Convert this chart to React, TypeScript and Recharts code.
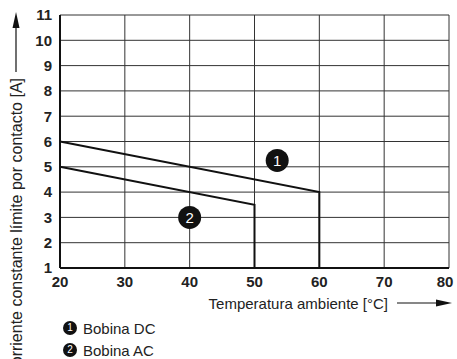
import React from 'react';
import {
    LineChart,
    Line,
    XAxis,
    YAxis,
    CartesianGrid,
    ReferenceDot,
    Label,
} from 'recharts';

// temperature ticks (°C) and current ticks (A)
const tempTicks = [20, 30, 40, 50, 60, 70, 80];
const currentTicks = [1, 2, 3, 4, 5, 6, 7, 8, 9, 10, 11];

// derating curves: [temperature, current]
const dcCoil = [
    { t: 20, a: 6 },
    { t: 60, a: 4 },
    { t: 60, a: 1 },
];
const acCoil = [
    { t: 20, a: 5 },
    { t: 50, a: 3.5 },
    { t: 50, a: 1 },
];

// numbered markers placed on the chart
const markers = [
    { id: '1', t: 53.5, a: 5.25 },
    { id: '2', t: 40, a: 3 },
];

const legendItems = [
    { id: '1', name: 'Bobina DC' },
    { id: '2', name: 'Bobina AC' },
];

const FONT = '"Liberation Sans", Arial, Helvetica, sans-serif';

const YTitle = () => (
    <g>
        <line x1={16} y1={26} x2={16} y2={72} stroke="#111" strokeWidth={1.2} />
        <polygon points="16,12 12.5,28 19.5,28" fill="#111" />
        <text
            x={16}
            y={78}
            transform="rotate(-90 16 78)"
            textAnchor="end"
            dominantBaseline="central"
            fontSize={16}
            fill="#222"
            fontFamily={FONT}
        >
            Corriente constante límite por contacto [A]
        </text>
    </g>
);

const XTitle = () => (
    <g>
        <text
            x={388}
            y={303}
            textAnchor="end"
            dominantBaseline="central"
            fontSize={15}
            fill="#222"
            fontFamily={FONT}
        >
            Temperatura ambiente [°C]
        </text>
        <line x1={397} y1={303} x2={440} y2={303} stroke="#111" strokeWidth={1.2} />
        <polygon points="452,303 436,299.5 436,306.5" fill="#111" />
    </g>
);

const XTick = (props: any) => {
    const { x, y, payload } = props;
    // the last label is nudged left so it stays inside the frame
    const shift = payload.value === 80 ? -4 : 0;
    return (
        <text
            x={x + shift}
            y={y}
            dy="0.71em"
            textAnchor="middle"
            fill="#222"
            fontSize={15}
            fontWeight="bold"
            fontFamily={FONT}
        >
            {payload.value}
        </text>
    );
};

const App: React.FC = () => {
    return (
        <div style={{ position: 'relative', width: 457, height: 359, fontFamily: FONT }}>
            <style>{'body{margin:0}'}</style>
            <LineChart
                width={457}
                height={359}
                margin={{ top: 15, right: 8, bottom: 61, left: 20 }}
            >
                <CartesianGrid stroke="#333" strokeWidth={1} />
                <XAxis
                    type="number"
                    dataKey="t"
                    domain={[20, 80]}
                    ticks={tempTicks}
                    height={30}
                    axisLine={{ stroke: '#111', strokeWidth: 2 }}
                    tickLine={false}
                    tick={XTick}
                >
                    <Label content={XTitle} />
                </XAxis>
                <YAxis
                    type="number"
                    dataKey="a"
                    domain={[1, 11]}
                    ticks={currentTicks}
                    width={40}
                    axisLine={{ stroke: '#111', strokeWidth: 2 }}
                    tickLine={false}
                    tick={{ fill: '#222', fontSize: 15, fontWeight: 'bold', fontFamily: FONT }}
                >
                    <Label content={YTitle} />
                </YAxis>
                <Line
                    data={dcCoil}
                    dataKey="a"
                    type="linear"
                    stroke="#111"
                    strokeWidth={2}
                    dot={false}
                    isAnimationActive={false}
                />
                <Line
                    data={acCoil}
                    dataKey="a"
                    type="linear"
                    stroke="#111"
                    strokeWidth={2}
                    dot={false}
                    isAnimationActive={false}
                />
                {markers.map(m => (
                    <ReferenceDot
                        key={m.id}
                        x={m.t}
                        y={m.a}
                        r={11.5}
                        fill="#111"
                        stroke="none"
                        label={{ value: m.id, position: 'center', fill: '#fff', fontSize: 15, fontFamily: FONT }}
                    />
                ))}
            </LineChart>
            <div style={{ position: 'absolute', left: 63, top: 317 }}>
                {legendItems.map(item => (
                    <div key={item.id} style={{ display: 'flex', alignItems: 'center', height: 22 }}>
                        <span
                            style={{
                                width: 14,
                                height: 14,
                                borderRadius: 7,
                                background: '#111',
                                color: '#fff',
                                fontSize: 10,
                                lineHeight: '14px',
                                textAlign: 'center',
                                marginRight: 6,
                            }}
                        >
                            {item.id}
                        </span>
                        <span style={{ fontSize: 15, color: '#222' }}>{item.name}</span>
                    </div>
                ))}
            </div>
        </div>
    );
};

export default App;
